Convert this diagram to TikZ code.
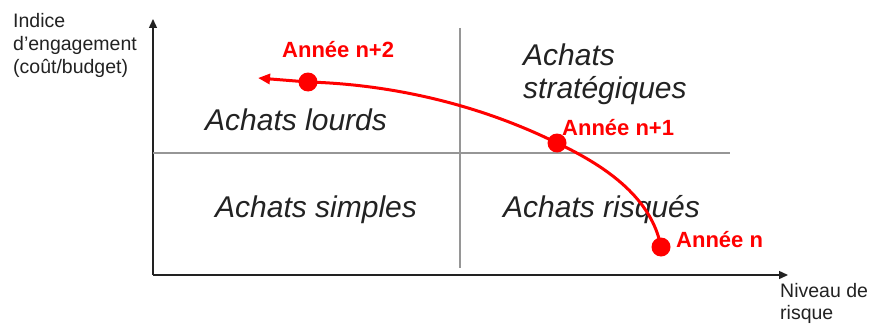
\documentclass[tikz,border=0pt]{standalone}
\usepackage{fontspec}
\setmainfont{Liberation Sans}
\usetikzlibrary{arrows.meta}
\definecolor{inkgray}{RGB}{34,34,34}
\definecolor{gridgray}{RGB}{150,150,150}
\definecolor{trend}{RGB}{255,0,0}
\tikzset{
  axis/.style={draw=inkgray, line width=1.4pt, -{Triangle[length=9pt,width=8pt]}},
  divider/.style={draw=gridgray, line width=1.8pt},
  quadrant/.style={font=\fontsize{30}{32}\selectfont\itshape, text=inkgray, inner sep=0pt, anchor=base west},
  axislabel/.style={font=\fontsize{19.5}{23}\selectfont, text=inkgray, inner sep=0pt, anchor=base west},
  yeardot/.style={circle, fill=trend, minimum size=19pt, inner sep=0pt},
  yearlabel/.style={font=\fontsize{22}{24}\selectfont\bfseries, text=trend, inner sep=0pt, anchor=base west},
  trendline/.style={draw=trend, line width=3pt, -{Triangle[length=12pt,width=10pt]}}
}
\begin{document}
\begin{tikzpicture}[x=1pt, y=-1pt]
  \useasboundingbox (0,0) rectangle (872,329);

  % axes
  \coordinate (origin) at (153,275);
  \coordinate (ytop) at (153,19);
  \coordinate (xend) at (788,275);
  \draw[axis] (origin) -- (ytop);
  \draw[axis] (origin) -- (xend);

  % quadrant dividers
  \coordinate (vtop) at (460,28);
  \coordinate (vbot) at (460,268);
  \coordinate (hleft) at (153,153);
  \coordinate (hright) at (730,153);
  \draw[divider] (vtop) -- (vbot);
  \draw[divider] (hleft) -- (hright);

  % axis labels, one node per line
  \node[axislabel] (ylab1) at (13,28) {Indice};
  \node[axislabel] (ylab2) at (13,51) {d'engagement};
  \node[axislabel] (ylab3) at (13,74) {(coût/budget)};
  \node[axislabel] (xlab1) at (780,297) {Niveau de};
  \node[axislabel] (xlab2) at (780,319) {risque};

  % quadrant names
  \node[quadrant] (lourds) at (205,130) {Achats lourds};
  \node[quadrant] (strat1) at (523,66) {Achats};
  \node[quadrant] (strat2) at (523,98) {stratégiques};
  \node[quadrant] (simples) at (215,217) {Achats simples};
  \node[quadrant] (risques) at (503,217) {Achats risqués};

  % yearly trajectory
  \coordinate (p0) at (661,247);
  \coordinate (p1) at (557,143);
  \coordinate (p2) at (308,82);
  \coordinate (tip) at (258,78);
  \draw[trendline] (p0) .. controls (652,200) and (610,168) .. (p1)
                        .. controls (470,100) and (380,84) .. (p2)
                        -- (tip);

  \node[yeardot] (yn) at (p0) {};
  \node[yeardot] (yn1) at (p1) {};
  \node[yeardot] (yn2) at (p2) {};

  \node[yearlabel] (lab0) at (676,247) {Année n};
  \node[yearlabel] (lab1) at (562,135) {Année n+1};
  \node[yearlabel] (lab2) at (282,57) {Année n+2};
\end{tikzpicture}
\end{document}
